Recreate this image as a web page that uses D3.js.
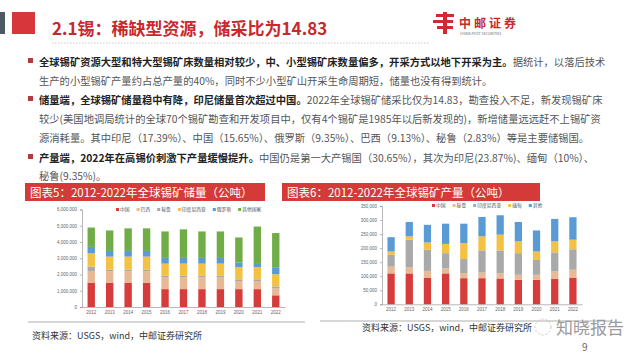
<!DOCTYPE html>
<html><head><meta charset="utf-8">
<script src="https://cdn.jsdelivr.net/npm/d3@7"></script>
<style>body{margin:0;background:#fff}svg{display:block;font-family:"Noto Sans CJK SC","Noto Sans",sans-serif}</style>
</head><body>
<svg id="c" width="640" height="360"></svg>
<script>
// ---- data ----
const years = ["2012","2013","2014","2015","2016","2017","2018","2019","2020","2021","2022"];
// reserves (tonnes)
const resSeries = ["中国","巴西","秘鲁","印度尼西亚","俄罗斯","其他国家"];
const resChina = [1500000,1500000,1500000,1500000,1100000,1100000,1100000,1100000,1100000,1100000,720000];
const resBrazil = [710000,700000,700000,700000,720000,720000,720000,720000,500000,500000,420000];
const resPeru = [270000,100000,100000,100000,100000,100000,100000,100000,100000,100000,130000];
const resIndonesia = [820000,800000,800000,800000,750000,750000,750000,750000,750000,750000,750000];
const resRussia = [400000,350000,350000,350000,350000,350000,350000,350000,300000,200000,430000];
const resOther = [1190000,1260000,1390000,1390000,1630000,1760000,1630000,1630000,1530000,2300000,2100000];
const resTicks = [0,1000000,2000000,3000000,4000000,5000000,6000000];
// production (tonnes)
const prodSeries = ["中国","秘鲁","印度尼西亚","缅甸","其他"];
const prodChina = [110000,110000,95000,110000,93000,93000,92000,87000,87000,90000,95000];
const prodPeru = [24000,22000,24000,18000,18000,20000,19000,18000,18000,27000,28000];
const prodIndonesia = [42000,98000,75000,54000,50000,79000,81000,77000,53000,68000,73000];
const prodMyanmar = [12000,12000,26000,33000,57000,50000,56000,42000,30000,39000,34000];
const prodOther = [51000,51000,63000,72000,69000,69000,69000,69000,75000,80000,80000];
const prodTicks = [0,50000,100000,150000,200000,250000,300000,350000];

const resColors = ["#d63c3c","#e8b994","#a9a9a9","#f4c242","#5b9bd5","#70ad47"];
const prodColors = ["#d63c3c","#e8b994","#a9a9a9","#f4c242","#5b9bd5"];

const svg = d3.select("#c");
const RED = "#c9282d";

// ---- header ----
svg.append("rect").attr("x",0).attr("y",12).attr("width",5).attr("height",22).attr("fill","#4d5a66");
svg.append("rect").attr("x",12).attr("y",12).attr("width",23).attr("height",22).attr("fill","#d7373a");
svg.append("text").attr("x",52).attr("y",35).attr("font-size",17).attr("font-weight","bold").attr("fill",RED)
  .text("2.1锡：稀缺型资源，储采比为14.83");
svg.append("line").attr("x1",52).attr("x2",430).attr("y1",43).attr("y2",43)
  .attr("stroke","#bbb").attr("stroke-width",0.8).attr("stroke-dasharray","1.5,1.5");
// logo
const lg = svg.append("g").attr("fill","#d02a2e");
lg.append("rect").attr("x",436).attr("y",14).attr("width",18).attr("height",3);
lg.append("rect").attr("x",433).attr("y",20).attr("width",20).attr("height",3);
lg.append("rect").attr("x",437).attr("y",26).attr("width",16).attr("height",3);
lg.append("rect").attr("x",443).attr("y",12).attr("width",4).attr("height",22);
svg.append("text").attr("x",459).attr("y",28).attr("font-size",12).attr("font-weight","bold").attr("fill","#c9282d")
  .attr("letter-spacing",3).text("中邮证券");
svg.append("text").attr("x",460).attr("y",35).attr("font-size",3.6).attr("fill","#666").text("CHINA POST SECURITIES");

// ---- body text ----
const lines = [
  {y:66, bullet:true, parts:[["b","全球锡矿资源大型和特大型锡矿床数量相对较少，中、小型锡矿床数量偏多，开采方式以地下开采为主。"],["n","据统计，以落后技术"]]},
  {y:85, parts:[["n","生产的小型锡矿产量约占总产量的40%，同时不少小型矿山开采生命周期短，储量也没有得到统计。"]]},
  {y:104, bullet:true, parts:[["b","储量端，全球锡矿储量稳中有降，印尼储量首次超过中国。"],["n","2022年全球锡矿储采比仅为14.83，勘查投入不足，新发现锡矿床"]]},
  {y:123, parts:[["n","较少(美国地调局统计的全球70个锡矿勘查和开发项目中，仅有4个锡矿是1985年以后新发现的)，新增储量远远赶不上锡矿资"]]},
  {y:142, parts:[["n","源消耗量。其中印尼（17.39%）、中国（15.65%）、俄罗斯（9.35%）、巴西（9.13%）、秘鲁（2.83%）等是主要储锡国。"]]},
  {y:162, bullet:true, parts:[["b","产量端，2022年在高锡价刺激下产量缓慢提升。"],["n","中国仍是第一大产锡国（30.65%），其次为印尼(23.87%)、缅甸（10%）、"]]},
  {y:180, parts:[["n","秘鲁(9.35%)。"]]}
];
lines.forEach(l=>{
  if(l.bullet) svg.append("rect").attr("x",28).attr("y",l.y-8).attr("width",5).attr("height",5).attr("fill","#b03a3e");
  const t = svg.append("text").attr("x",39).attr("y",l.y).attr("font-size",10.3);
  l.parts.forEach(p=>{
    t.append("tspan").attr("font-weight",p[0]==="b"?"bold":"normal").attr("fill",p[0]==="b"?"#222":"#555").text(p[1]);
  });
});

// ---- chart headers ----
function header(x,w,label){
  svg.append("rect").attr("x",x).attr("y",183).attr("width",w).attr("height",18).attr("fill","#d43a37");
  svg.append("text").attr("x",x+5).attr("y",196.5).attr("font-size",11.5).attr("fill","#fff").text(label);
}
header(25,240,"图表5：2012-2022年全球锡矿储量（公吨）");
header(282,258,"图表6：2012-2022年全球锡矿产量（公吨）");

// ---- stacked chart helper ----
function stacked(opt){
  const rows = years.map((yr,i)=>{const o={year:yr}; opt.keys.forEach((k,j)=>o[k]=opt.arrays[j][i]); return o;});
  const stack = d3.stack().keys(opt.keys)(rows);
  const x = d3.scaleBand().domain(years).range([opt.x0,opt.x1]).paddingInner(0.6).paddingOuter(0.3);
  const y = d3.scaleLinear().domain([0,opt.max]).range([opt.y0,opt.y1]);
  const g = svg.append("g");
  stack.forEach((s,j)=>{
    g.selectAll(null).data(s).enter().append("rect")
      .attr("x",d=>x(d.data.year)).attr("width",x.bandwidth())
      .attr("y",d=>y(d[1])).attr("height",d=>y(d[0])-y(d[1]))
      .attr("fill",opt.colors[j]);
  });
  const ya = g.append("g").attr("transform",`translate(${opt.x0},0)`)
    .call(d3.axisLeft(y).tickValues(opt.ticks).tickSize(2).tickFormat(d3.format(",")));
  ya.selectAll("text").attr("font-size",4.5).attr("fill","#666");
  ya.selectAll("line,path").attr("stroke","#888").attr("stroke-width",0.6);
  const xa = g.append("g").attr("transform",`translate(0,${opt.y0})`)
    .call(d3.axisBottom(x).tickSize(0).tickPadding(4));
  xa.selectAll("text").attr("font-size",4.5).attr("fill","#666");
  xa.selectAll("path").attr("stroke","#888").attr("stroke-width",0.6);
  // legend
  let lx = opt.legX;
  opt.keys.forEach((k,j)=>{
    g.append("rect").attr("x",lx).attr("y",opt.legY-3).attr("width",3).attr("height",3).attr("fill",opt.colors[j]);
    g.append("text").attr("x",lx+4).attr("y",opt.legY).attr("font-size",4.8).attr("fill","#555").text(k);
    lx += 7 + k.length*4.8 + 4;
  });
}
stacked({keys:resSeries, arrays:[resChina,resBrazil,resPeru,resIndonesia,resRussia,resOther], colors:resColors,
  x0:82,x1:285,y0:307,y1:209.5,max:6000000,ticks:resTicks,legX:116,legY:211});
stacked({keys:prodSeries, arrays:[prodChina,prodPeru,prodIndonesia,prodMyanmar,prodOther], colors:prodColors,
  x0:382,x1:582,y0:304.3,y1:206,max:350000,ticks:prodTicks,legX:432,legY:207});

// ---- footers ----
svg.append("line").attr("x1",28).attr("x2",305).attr("y1",322).attr("y2",322).attr("stroke","#999").attr("stroke-width",0.8);
svg.append("text").attr("x",32).attr("y",339).attr("font-size",9).attr("fill","#333").text("资料来源：USGS，wind，中邮证券研究所");
svg.append("line").attr("x1",320).attr("x2",612).attr("y1",321).attr("y2",321).attr("stroke","#999").attr("stroke-width",0.8);
svg.append("text").attr("x",362).attr("y",331).attr("font-size",9).attr("fill","#333").text("资料来源：USGS，wind，中邮证券研究所");
svg.append("circle").attr("cx",543).attr("cy",327).attr("r",8).attr("fill","none").attr("stroke","#bbb").attr("stroke-width",0.8).attr("stroke-dasharray","2,2");
svg.append("text").attr("x",556).attr("y",334).attr("font-size",17).attr("fill","#9a9a9a").text("知晓报告");
svg.append("text").attr("x",582).attr("y",351).attr("font-size",10).attr("fill","#666").text("9");
</script>
</body></html>
